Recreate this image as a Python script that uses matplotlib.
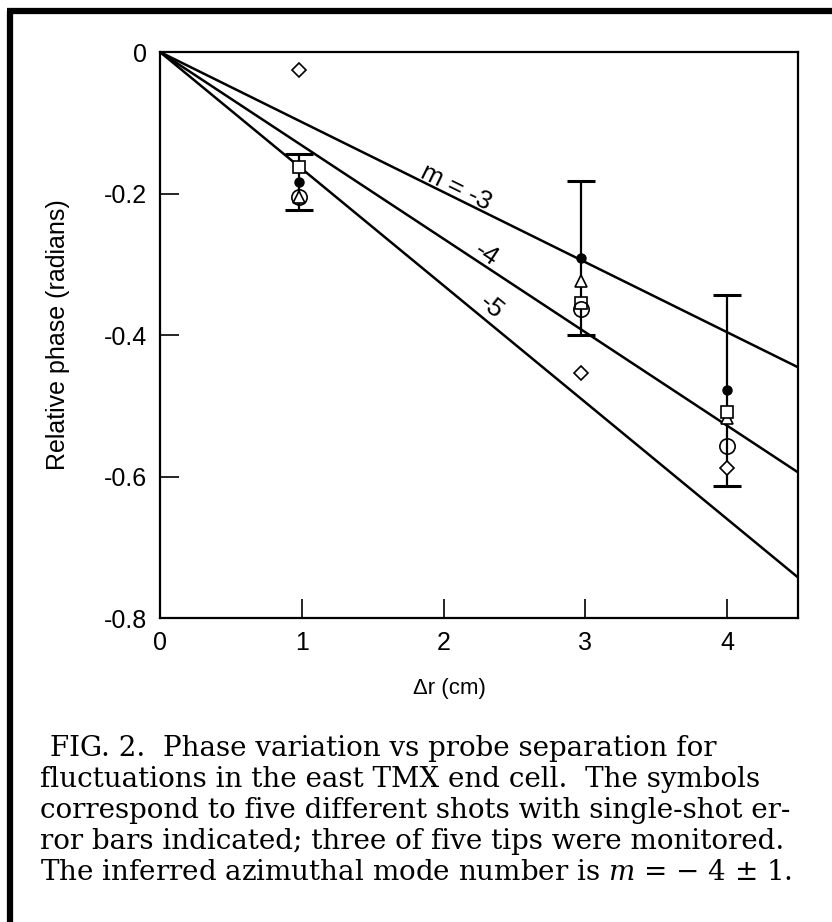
import matplotlib.pyplot as plt
from matplotlib.lines import Line2D
import numpy as np

# probe separation (cm) and relative phase (radians) for five shots
dr = [0.98, 2.97, 4.0]
phase_dot = [-0.184, -0.291, -0.478]
err_dot = [0.040, 0.109, 0.135]
phase_tri = [-0.205, -0.324, -0.517]
phase_sq = [-0.163, -0.355, -0.509]
phase_circ = [-0.205, -0.363, -0.557]
phase_diam = [-0.025, -0.454, -0.588]

modes = [-3, -4, -5]
k = 0.033  # phase per cm per unit m
mode_labels = ["m = -3", "-4", "-5"]
label_pos = [(2.09, -0.191), (2.30, -0.287), (2.34, -0.360)]

caption = [
    "FIG. 2.  Phase variation vs probe separation for",
    "fluctuations in the east TMX end cell.  The symbols",
    "correspond to five different shots with single-shot er-",
    "ror bars indicated; three of five tips were monitored.",
    r"The inferred azimuthal mode number is $m$ = $-$ 4 $\pm$ 1.",
]

plt.rcParams["font.family"] = ["Liberation Sans", "DejaVu Sans"]
plt.rcParams["mathtext.fontset"] = "dejavuserif"

fig = plt.figure(figsize=(8.32, 9.22), dpi=100)
ax = fig.add_axes([0.1923, 0.3297, 0.7667, 0.6139])

xx = np.array([0, 4.5])
for m in modes:
    ax.plot(xx, m * k * xx, color="black", lw=1.8)

for (lx, ly), txt, m in zip(label_pos, mode_labels, modes):
    ang = np.degrees(np.arctan(-m * k * 707.5 / 142.0))
    ax.text(lx, ly, txt, rotation=-ang, fontsize=19, ha="center", va="center",
            rotation_mode="anchor")

ax.errorbar(dr, phase_dot, yerr=err_dot, fmt="o", color="black", ms=6.5,
            capsize=10, elinewidth=1.6, capthick=2.2, zorder=3)
ax.plot(dr, phase_tri, "^", mfc="white", mec="black", ms=8, mew=1.2, zorder=4)
ax.plot(dr, phase_sq, "s", mfc="white", mec="black", ms=8, mew=1.2, zorder=4)
ax.plot(dr, phase_circ, "o", mfc="none", mec="black", ms=11, mew=1.2, zorder=4)
ax.plot(dr, phase_diam, "D", mfc="white", mec="black", ms=7.5, mew=1.2, zorder=4)

ax.set_xlim(0, 4.5)
ax.set_ylim(-0.8, 0)
ax.set_xticks([0, 1, 2, 3, 4])
ax.set_yticks([0, -0.2, -0.4, -0.6, -0.8])
ax.set_yticklabels(["0", "-0.2", "-0.4", "-0.6", "-0.8"])
ax.tick_params(direction="in", length=14, width=1.2, labelsize=18, pad=9)
for s in ax.spines.values():
    s.set_linewidth(1.6)
ax.set_xlabel("\u0394r (cm)", fontsize=16)
ax.xaxis.set_label_coords(0.453, -0.106)
ax.set_ylabel("Relative phase (radians)", fontsize=18)
ax.yaxis.set_label_coords(-0.141, 0.5)

# caption
y0 = 1 - 748 / 922
for i, line in enumerate(caption):
    x0 = 50 / 832 if i == 0 else 40 / 832
    fig.text(x0, y0 - i * 31 / 922, line, fontsize=20, family="DejaVu Serif",
             va="center", ha="left")

# frame on left and top
fig.add_artist(Line2D([10 / 832, 10 / 832], [0, 1 - 11.5 / 922], color="black",
                      lw=4.5, transform=fig.transFigure, solid_capstyle="butt"))
fig.add_artist(Line2D([7 / 832, 1], [1 - 11.5 / 922, 1 - 11.5 / 922], color="black",
                      lw=4.5, transform=fig.transFigure, solid_capstyle="butt"))

fig.savefig("out.png", dpi=100)
